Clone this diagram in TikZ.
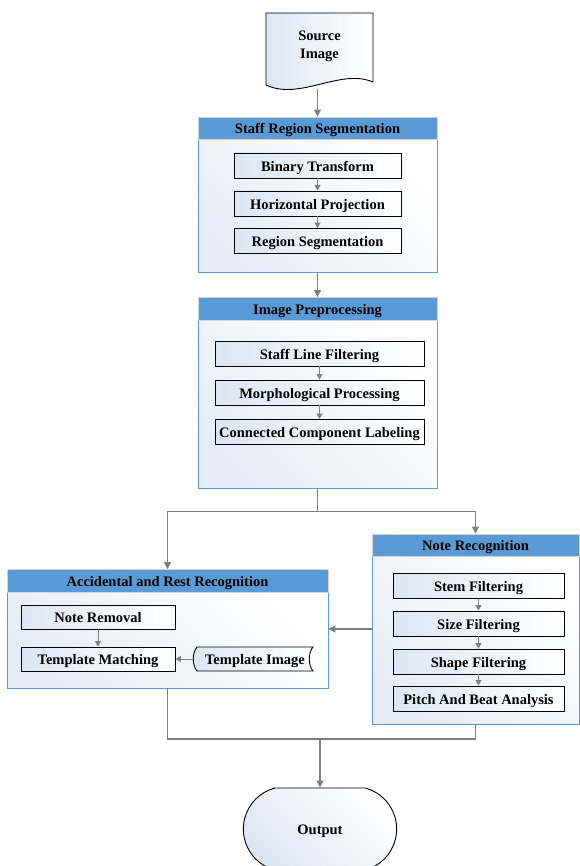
\documentclass[tikz,border=0pt]{standalone}
\usepackage{fontspec}
\setmainfont{Liberation Serif}
\usetikzlibrary{
  positioning,
  calc,
  arrows.meta,
  shapes.misc
}
\definecolor{hdrblue}{HTML}{5B9BD5}
\definecolor{paleblue}{HTML}{DCE6F2}
\definecolor{flowgray}{HTML}{7F7F7F}
\tikzstyle{flow}=[draw=flowgray, line width=1.3pt, -{Triangle[length=7pt,width=7pt]}]
\tikzstyle{subflow}=[draw=flowgray, line width=1pt, -{Triangle[length=5.5pt,width=6pt]}]
\tikzstyle{wire}=[draw=flowgray, line width=1.3pt]
\tikzstyle{hdr}=[draw=gray!35, fill=hdrblue, inner sep=0pt, minimum height=22.5pt, text height=11.5pt, text depth=0pt, font=\fontsize{14.5}{16}\selectfont\bfseries]
\tikzstyle{panel}=[draw=hdrblue, line width=0.9pt, top color=white, bottom color=paleblue!75, shading angle=-45, inner sep=0pt]
\tikzstyle{stepbox}=[draw=black, line width=0.9pt, left color=paleblue, right color=white, inner sep=0pt, minimum height=25pt, text height=11.5pt, text depth=0pt, font=\fontsize{14.5}{16}\selectfont\bfseries]
\tikzstyle{stepfill}=[draw=black, line width=0.9pt, left color=paleblue, right color=white]

\begin{document}
\begin{tikzpicture}[x=1pt, y=-1pt]
    \useasboundingbox (0,0) rectangle (579,866);

    % 入力画像（ドキュメント形）
    \path[stepfill] (266,13) -- (373,13) -- (373,82)
      .. controls (340,68) and (300,101) .. (266,85) -- cycle;
    \node[align=center, font=\fontsize{14.5}{18}\selectfont\bfseries] (src) at (319.5,46) {Source\\Image};
    \coordinate (srcB) at (317.5,89);

    % 五線領域の分割
    \node[panel, minimum width=239, minimum height=133] (srs) at (317.5,205.5) {};
    \node[hdr, minimum width=239] (srsH) at (317.5,128) {Staff Region Segmentation};
    \node[stepbox, minimum width=167] (bin) at (317.5,165.5) {Binary Transform};
    \node[stepbox, minimum width=167] (hproj) at (317.5,203.5) {Horizontal Projection};
    \node[stepbox, minimum width=167] (rseg) at (317.5,241) {Region Segmentation};
    \draw[subflow] (bin) -- (hproj);
    \draw[subflow] (hproj) -- (rseg);

    % 前処理
    \node[panel, minimum width=239, minimum height=168] (ip) at (317.5,404) {};
    \node[hdr, minimum width=239] (ipH) at (317.5,308.5) {Image Preprocessing};
    \node[stepbox, minimum width=209] (slf) at (319.5,353.5) {Staff Line Filtering};
    \node[stepbox, minimum width=209] (morph) at (319.5,392.5) {Morphological Processing};
    \node[stepbox, minimum width=209] (ccl) at (319.5,432) {Connected Component Labeling};
    \draw[subflow] (slf) -- (morph);
    \draw[subflow] (morph) -- (ccl);

    % 音符認識
    \node[panel, minimum width=207, minimum height=168] (nr) at (475.5,640) {};
    \node[hdr, minimum width=207] (nrH) at (475.5,545) {Note Recognition};
    \node[stepbox, minimum width=171] (stem) at (478.5,586) {Stem Filtering};
    \node[stepbox, minimum width=171] (size) at (478.5,623.5) {Size Filtering};
    \node[stepbox, minimum width=171] (shape) at (478.5,661.5) {Shape Filtering};
    \node[stepbox, minimum width=171] (pitch) at (478.5,698.5) {Pitch And Beat Analysis};
    \draw[subflow] (stem) -- (size);
    \draw[subflow] (size) -- (shape);
    \draw[subflow] (shape) -- (pitch);

    % 臨時記号・休符の認識
    \node[panel, minimum width=321, minimum height=96] (ar) at (167.5,640) {};
    \node[hdr, minimum width=321] (arH) at (167.5,580.5) {Accidental and Rest Recognition};
    \node[stepbox, minimum width=154, minimum height=24] (nrem) at (98,617) {Note Removal};
    \node[stepbox, minimum width=154, minimum height=24] (tmatch) at (98,659) {Template Matching};
    \path[stepfill] (197,647) -- (313,647) .. controls (308,653) and (308,665) .. (313,671)
      -- (197,671) .. controls (192,665) and (192,653) .. (197,647) -- cycle;
    \node[minimum width=116, minimum height=24, inner sep=0pt, text height=11.5pt, text depth=0pt, font=\fontsize{14.5}{16}\selectfont\bfseries] (timg) at (255,659) {Template Image};
    \draw[subflow] (nrem) -- (tmatch);
    \draw[subflow] ($(timg.west)+(-3.5,0)$) -- (tmatch.east);

    % 終了
    \node[rounded rectangle, rounded rectangle arc length=150, draw=black, line width=0.9pt,
      top color=white, bottom color=paleblue, shading angle=-45,
      minimum width=160, minimum height=82, text height=11.5pt, text depth=0pt,
      font=\fontsize{14.5}{16}\selectfont\bfseries] (out) at (320,829) {Output};

    % 接続線
    \draw[flow] (srcB) -- (srsH.north);
    \draw[flow] (srs.south) -- (ipH.north);
    \draw[wire] (ip.south) -- ++(0,23) coordinate (split);
    \draw[flow] (split) -| (arH.north);
    \draw[flow] (split) -| (nrH.north);
    \coordinate (nrMid) at ($(nrH.north west)!0.5!(nr.south west)$);
    \draw[flow] (nrMid) -- (nrMid -| ar.east);
    \coordinate (merge) at (320,739);
    \draw[wire] (ar.south) |- (merge) -| (nr.south);
    \draw[flow] (merge) -- (out.north);
\end{tikzpicture}
\end{document}
